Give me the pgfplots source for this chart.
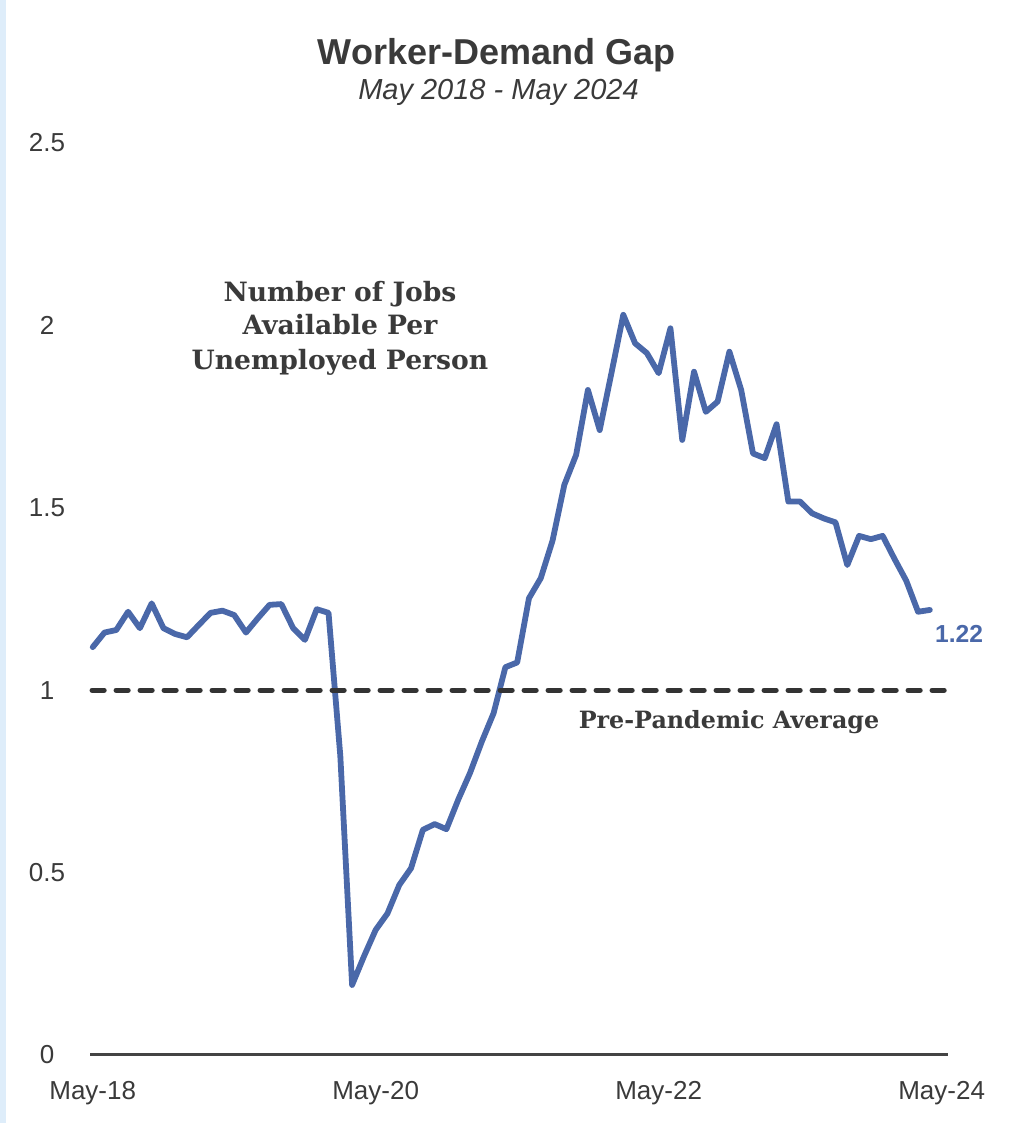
\documentclass[border=0pt]{standalone}
\usepackage{pgfplots}
\pgfplotsset{compat=1.18}
\usepackage{fontspec}
\setmainfont{Liberation Sans}
\newfontfamily\annfont{DejaVu Serif}
\definecolor{lineblue}{RGB}{74,104,169}
\definecolor{txtgray}{RGB}{58,58,58}
\definecolor{dashgray}{RGB}{51,51,51}
\definecolor{axisgray}{RGB}{68,68,68}
\definecolor{edgeblue}{RGB}{222,237,250}

\begin{document}
\begin{tikzpicture}
\useasboundingbox (0,0) rectangle (509.5pt,561.5pt);
\fill[edgeblue] (0,0) rectangle (3pt,561.5pt);
\begin{axis}[
  at={(45pt,34pt)}, anchor=south west,
  width=429pt, height=456pt, scale only axis,
  xmin=-0.23, xmax=72.54, ymin=0, ymax=2.5,
  axis x line*=bottom, axis y line*=left,
  y axis line style={draw=none},
  x axis line style={-, draw=axisgray, line width=1.5pt},
  tick style={draw=none}, major tick length=0pt,
  xtick={0,24,48,72},
  xticklabels={May-18,May-20,May-22,May-24},
  ytick={0,0.5,1,1.5,2,2.5},
  yticklabels={0,0.5,1,1.5,2,2.5},
  xticklabel style={anchor=center, yshift=-19pt, font=\fontsize{13}{15}\selectfont, text=txtgray},
  yticklabel style={anchor=center, xshift=-21.5pt, font=\fontsize{13}{15}\selectfont, text=txtgray},
  clip=false,
]
\addplot[lineblue, line width=2.9pt, line join=round, line cap=round] table {
x y
0 1.118
1 1.158
2 1.165
3 1.215
4 1.170
5 1.238
6 1.170
7 1.154
8 1.145
9 1.179
10 1.212
11 1.218
12 1.206
13 1.158
14 1.197
15 1.234
16 1.236
17 1.170
18 1.138
19 1.222
20 1.212
21 0.820
22 0.192
23 0.270
24 0.343
25 0.388
26 0.466
27 0.512
28 0.617
29 0.633
30 0.619
31 0.700
32 0.773
33 0.859
34 0.937
35 1.063
36 1.076
37 1.252
38 1.307
39 1.410
40 1.563
41 1.645
42 1.823
43 1.713
44 1.870
45 2.029
46 1.951
47 1.924
48 1.869
49 1.992
50 1.686
51 1.873
52 1.763
53 1.791
54 1.928
55 1.823
56 1.649
57 1.636
58 1.729
59 1.517
60 1.517
61 1.485
62 1.471
63 1.460
64 1.343
65 1.423
66 1.414
67 1.423
68 1.360
69 1.300
70 1.215
71 1.220
};
\addplot[dashgray, line width=2.6pt, dash pattern=on 6pt off 6pt, line cap=round] coordinates {(-0.05,1) (72.3,1)};
\end{axis}
\node[anchor=base, font=\bfseries\fontsize{18}{20}\selectfont, text=txtgray] at (248.25pt,529.35pt) {Worker-Demand Gap};
\node[anchor=base, font=\itshape\fontsize{14.5}{16}\selectfont, text=txtgray] at (249.25pt,511.5pt) {May 2018 - May 2024};
\node[anchor=base, font=\annfont\bfseries\fontsize{13.3}{16}\selectfont, text=txtgray] at (170pt,410.65pt) {Number of Jobs};
\node[anchor=base, font=\annfont\bfseries\fontsize{13.3}{16}\selectfont, text=txtgray] at (170pt,394pt) {Available Per};
\node[anchor=base, font=\annfont\bfseries\fontsize{13.3}{16}\selectfont, text=txtgray] at (170pt,376.5pt) {Unemployed Person};
\node[anchor=base, font=\annfont\bfseries\fontsize{11.9}{14}\selectfont, text=txtgray] at (364.5pt,197pt) {Pre-Pandemic Average};
\node[anchor=base, font=\bfseries\fontsize{12.3}{14}\selectfont, text=lineblue] at (479.5pt,240.15pt) {1.22};
\end{tikzpicture}
\end{document}
